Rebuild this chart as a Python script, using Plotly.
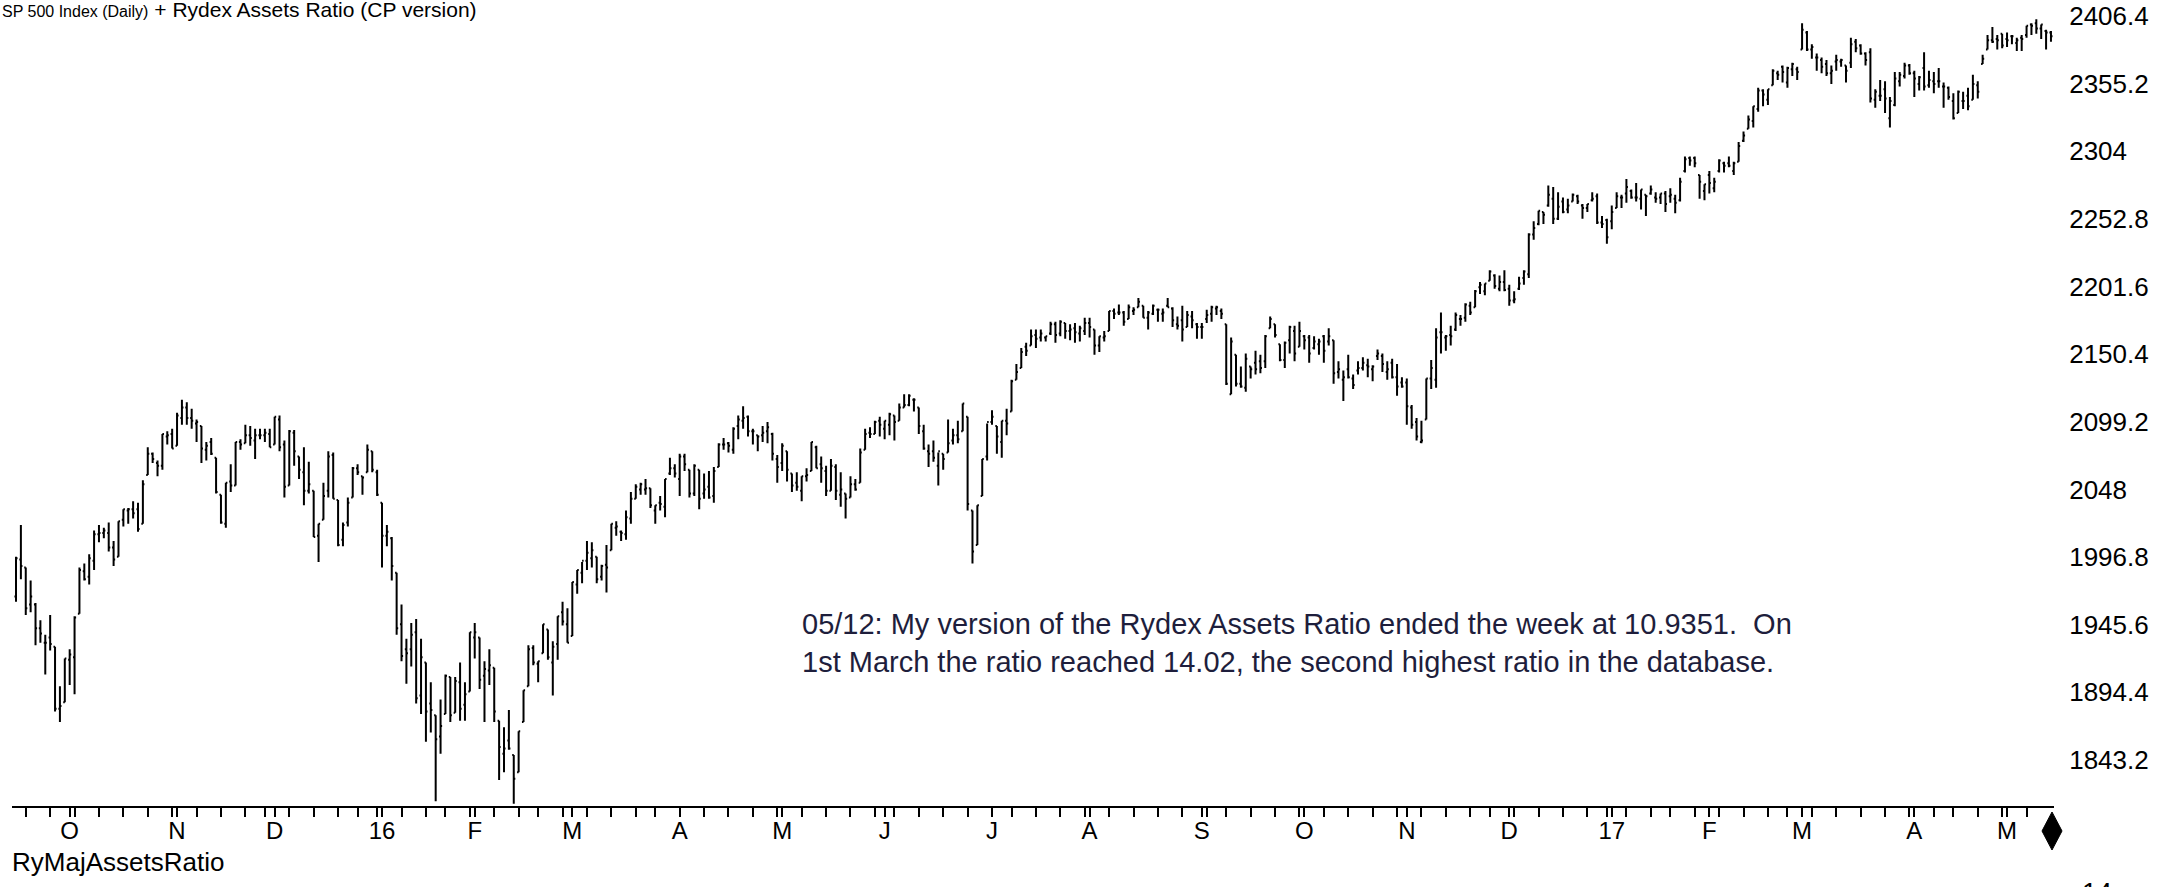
import pandas as pd
import plotly.graph_objects as go

# ---------------- data (S&P 500 daily, 2015-09-16 .. 2017-05-12) ----------------
start_date = "2015-09-16"
end_date = "2017-05-12"
market_holidays = ["2015-11-26", "2015-12-25", "2016-01-01", "2016-01-18", "2016-02-15",
                   "2016-03-25", "2016-05-30", "2016-07-04", "2016-09-05", "2016-11-24",
                   "2016-12-26", "2017-01-02", "2017-01-16", "2017-02-20", "2017-04-14"]

opens = [
    # Sep 2015 (11)
    1967,1995,1989,1961,1961,1943,1932,1936,1929,1882,1887,
    # Oct 2015 (22)
    1919,1921,1954,1986,1982,1994,2014,2015,2015,2004,1997,2025,2032,2033,2033,2022,2059,2075,2068,2066,2088,2090,
    # Nov 2015 (20)
    2081,2102,2110,2102,2098,2096,2078,2084,2072,2044,2022,2054,2051,2084,2083,2089,2085,2089,2089,2090,
    # Dec 2015 (22)
    2082,2101,2082,2051,2091,2073,2061,2047,2047,2013,2025,2047,2074,2040,2010,2023,2042,2064,2058,2061,2077,2061,
    # Jan 2016 (19)
    2038,2013,2011,1985,1946,1927,1927,1940,1892,1917,1886,1877,1861,1878,1906,1879,1902,1885,1895,
    # Feb 2016 (20)
    1936,1936,1907,1911,1913,1873,1848,1858,1847,1834,1872,1899,1928,1916,1924,1942,1917,1931,1955,1946,
    # Mar 2016 (22)
    1937,1976,1985,1994,1996,1997,1982,1991,2002,2019,2016,2014,2026,2041,2048,2048,2049,2032,2038,2035,2060,2064,
    # Apr 2016 (21)
    2056,2073,2063,2045,2063,2045,2050,2043,2065,2082,2083,2078,2096,2100,2103,2092,2089,2089,2092,2090,2071,
    # May 2016 (21)
    2068,2077,2060,2053,2047,2058,2062,2080,2067,2062,2047,2065,2044,2045,2042,2052,2053,2078,2091,2090,2100,
    # Jun 2016 (22)
    2094,2097,2104,2100,2110,2112,2116,2110,2092,2077,2077,2066,2075,2076,2085,2089,2092,2103,2032,2006,2043,2073,
    # Jul 2016 (20)
    2099,2096,2084,2100,2107,2131,2140,2156,2157,2165,2163,2163,2166,2173,2166,2174,2168,2170,2166,2168,
    # Aug 2016 (23)
    2174,2169,2157,2163,2168,2183,2182,2182,2177,2183,2186,2187,2178,2181,2184,2181,2187,2185,2173,2176,2171,2179,2173,
    # Sep 2016 (21)
    2171,2177,2181,2185,2183,2173,2120,2150,2128,2125,2141,2144,2145,2145,2170,2173,2158,2146,2161,2168,2156,
    # Oct 2016 (21)
    2164,2163,2155,2158,2164,2160,2161,2137,2131,2139,2132,2138,2140,2142,2139,2149,2149,2137,2144,2133,2129,
    # Nov 2016 (21)
    2129,2110,2099,2084,2101,2132,2131,2167,2163,2165,2169,2177,2178,2187,2186,2201,2198,2206,2210,2200,2205,
    # Dec 2016 (21)
    2200,2191,2200,2208,2211,2241,2249,2258,2263,2268,2253,2266,2260,2266,2270,2263,2261,2267,2270,2250,2252,
    # Jan 2017 (20)
    2251,2261,2269,2272,2274,2269,2268,2271,2272,2269,2269,2272,2270,2268,2267,2289,2299,2299,2286,2274,
    # Feb 2017 (19)
    2286,2276,2289,2295,2295,2289,2296,2312,2321,2327,2336,2350,2343,2354,2363,2368,2356,2366,2366,
    # Mar 2017 (23)
    2381,2394,2381,2375,2373,2370,2363,2372,2372,2369,2371,2387,2384,2378,2379,2343,2346,2351,2329,2339,2357,2361,2369,
    # Apr 2017 (19)
    2363,2355,2367,2354,2357,2357,2353,2352,2342,2333,2342,2346,2343,2354,2370,2381,2388,2389,2393,
    # May 2017 (10)
    2389,2391,2386,2390,2392,2400,2401,2397,2395,2394,
]

highs = [
    1997,2021,1989,1979,1962,1949,1938,1953,1929,1899,1920,
    1927,1952,1989,1992,1999,2017,2021,2019,2023,2009,2024,2033,2034,2039,2038,2055,2080,2076,2070,2090,2092,2094,
    2106,2116,2114,2109,2101,2096,2084,2087,2072,2044,2053,2067,2084,2086,2097,2096,2094,2094,2094,2094,
    2103,2104,2085,2093,2093,2073,2080,2069,2047,2022,2053,2077,2076,2040,2023,2042,2065,2067,2058,2082,2077,2063,
    2038,2021,2012,1985,1961,1935,1947,1950,1935,1917,1902,1877,1889,1908,1906,1906,1917,1902,1940,
    1947,1936,1918,1927,1913,1873,1868,1881,1847,1865,1896,1930,1930,1918,1946,1942,1933,1952,1963,1958,
    1978,1987,1993,2009,2008,1997,1991,2006,2022,2024,2017,2032,2046,2052,2053,2056,2049,2036,2043,2056,2072,2067,
    2075,2075,2063,2067,2063,2060,2062,2065,2083,2087,2084,2095,2104,2111,2104,2094,2089,2096,2099,2091,2074,
    2083,2077,2060,2061,2058,2064,2084,2081,2073,2066,2071,2067,2061,2045,2058,2056,2079,2094,2095,2100,2103,
    2100,2106,2104,2113,2120,2120,2117,2110,2097,2082,2085,2076,2075,2101,2094,2100,2113,2103,2032,2036,2071,2098,
    2108,2096,2100,2109,2131,2143,2155,2159,2169,2169,2169,2164,2175,2175,2176,2174,2173,2174,2172,2178,
    2178,2169,2164,2168,2183,2185,2188,2183,2188,2186,2193,2187,2183,2188,2185,2185,2193,2186,2179,2187,2183,2183,2174,
    2174,2184,2187,2187,2185,2173,2163,2150,2141,2151,2141,2153,2150,2165,2179,2173,2158,2160,2172,2172,2175,
    2165,2165,2164,2162,2165,2170,2161,2145,2138,2150,2135,2145,2148,2147,2142,2154,2151,2145,2147,2143,2133,
    2132,2112,2102,2100,2132,2146,2170,2182,2165,2172,2182,2180,2189,2190,2199,2205,2204,2214,2211,2210,2214,
    2203,2198,2209,2214,2242,2251,2259,2258,2278,2277,2273,2269,2268,2272,2271,2264,2264,2273,2272,2255,2253,
    2263,2273,2271,2283,2275,2280,2275,2271,2278,2273,2272,2274,2276,2271,2284,2300,2300,2300,2286,2279,
    2289,2284,2298,2296,2300,2296,2311,2319,2331,2338,2352,2351,2351,2366,2365,2369,2368,2371,2368,
    2401,2395,2385,2378,2375,2373,2369,2377,2374,2369,2390,2389,2385,2379,2382,2351,2358,2357,2345,2364,2364,2371,2370,
    2365,2361,2379,2365,2364,2367,2356,2353,2348,2350,2349,2352,2362,2357,2377,2392,2398,2392,2393,
    2394,2392,2390,2392,2399,2401,2404,2400,2396,2395,
]

lows = [
    1963,1980,1953,1955,1930,1932,1908,1926,1880,1872,1887,
    1900,1893,1954,1979,1976,1987,2008,2011,2001,1990,1997,2020,2022,2026,2016,2022,2059,2068,2058,2063,2082,2079,
    2081,2097,2097,2094,2084,2068,2070,2074,2045,2022,2019,2046,2051,2078,2083,2081,2071,2086,2084,2080,
    2082,2077,2042,2051,2066,2056,2036,2045,2012,1993,2025,2042,2041,2005,2005,2020,2042,2059,2044,2061,2061,2043,
    1989,2005,1979,1938,1918,1901,1914,1886,1878,1857,1864,1812,1848,1878,1872,1879,1873,1873,1895,
    1920,1897,1872,1900,1872,1828,1834,1851,1810,1834,1872,1899,1915,1902,1924,1919,1892,1919,1945,1932,
    1937,1969,1977,1987,1989,1977,1979,1970,2002,2013,2009,2010,2022,2041,2044,2044,2034,2022,2032,2027,2059,2057,
    2043,2062,2042,2043,2033,2041,2041,2038,2065,2078,2076,2075,2086,2094,2088,2082,2077,2084,2083,2070,2053,
    2062,2054,2046,2047,2039,2054,2062,2064,2053,2043,2047,2040,2035,2026,2042,2047,2053,2078,2087,2090,2088,
    2086,2089,2085,2100,2110,2111,2107,2090,2078,2065,2069,2051,2063,2076,2082,2083,2092,2032,1992,2006,2043,2070,
    2097,2075,2072,2089,2107,2131,2140,2149,2157,2155,2160,2160,2165,2159,2164,2162,2161,2159,2160,2165,
    2163,2150,2152,2160,2168,2177,2180,2172,2177,2180,2186,2178,2169,2180,2175,2175,2186,2171,2169,2160,2171,2170,2162,
    2162,2174,2175,2180,2177,2127,2120,2126,2125,2122,2132,2135,2136,2140,2170,2163,2145,2140,2151,2145,2156,
    2154,2144,2154,2150,2144,2157,2128,2132,2115,2132,2124,2135,2138,2133,2130,2146,2137,2131,2132,2119,2125,
    2097,2094,2085,2083,2101,2124,2125,2151,2153,2157,2168,2172,2175,2180,2186,2196,2195,2206,2200,2198,2198,
    2187,2189,2199,2203,2208,2237,2248,2249,2262,2249,2252,2257,2257,2266,2264,2253,2258,2266,2249,2246,2234,
    2245,2261,2261,2265,2268,2266,2260,2255,2271,2265,2264,2258,2265,2257,2266,2288,2293,2292,2268,2267,
    2272,2273,2288,2288,2292,2286,2296,2311,2321,2322,2334,2338,2339,2354,2358,2356,2352,2361,2358,
    2381,2380,2374,2365,2363,2361,2355,2365,2368,2356,2367,2379,2377,2369,2341,2337,2342,2333,2322,2338,2353,2359,2362,
    2345,2350,2350,2352,2348,2352,2337,2343,2328,2333,2336,2335,2343,2344,2370,2381,2386,2381,2382,
    2383,2385,2380,2380,2390,2392,2393,2389,2381,2387,
]

closes = [
    1996,1990,1958,1967,1943,1939,1932,1931,1882,1884,1920,
    1923,1951,1987,1980,1996,2014,2015,2017,2004,1995,2024,2033,2033,2030,2018,2052,2075,2071,2066,2090,2089,2079,
    2104,2110,2102,2100,2099,2079,2081,2075,2046,2023,2053,2051,2084,2082,2089,2087,2089,2089,2091,2080,
    2103,2080,2050,2092,2077,2063,2047,2052,2012,2022,2043,2073,2041,2006,2021,2038,2064,2061,2057,2078,2063,2044,
    2013,2016,1990,1943,1922,1924,1938,1890,1921,1880,1881,1859,1869,1907,1877,1903,1882,1893,1940,
    1940,1904,1912,1915,1880,1853,1852,1852,1829,1865,1896,1927,1917,1918,1946,1921,1929,1952,1948,1932,
    1978,1987,1994,2000,2002,1980,1990,1989,2022,2020,2015,2027,2041,2050,2052,2049,2036,2036,2037,2056,2064,2060,
    2073,2067,2045,2066,2041,2048,2042,2062,2082,2082,2081,2094,2101,2102,2092,2092,2088,2091,2095,2075,2065,
    2081,2063,2051,2050,2058,2059,2084,2064,2064,2047,2066,2047,2048,2041,2052,2048,2076,2090,2090,2099,2097,
    2100,2105,2099,2110,2112,2119,2116,2096,2079,2075,2072,2077,2071,2083,2089,2086,2113,2037,2001,2036,2071,2099,
    2103,2088,2100,2098,2130,2137,2152,2153,2164,2162,2166,2164,2173,2165,2175,2168,2169,2167,2170,2174,
    2171,2157,2164,2164,2183,2181,2182,2175,2186,2184,2190,2178,2182,2187,2184,2182,2186,2176,2172,2169,2180,2176,2171,
    2171,2180,2186,2186,2181,2128,2160,2128,2126,2147,2139,2139,2140,2164,2177,2165,2146,2159,2171,2151,2168,
    2161,2151,2160,2160,2153,2164,2136,2139,2133,2133,2127,2140,2144,2141,2141,2151,2143,2139,2133,2126,2126,
    2111,2097,2088,2085,2132,2140,2163,2167,2164,2164,2180,2177,2188,2182,2198,2203,2204,2213,2202,2205,2199,
    2191,2192,2204,2213,2241,2246,2259,2256,2271,2253,2262,2258,2263,2271,2266,2261,2264,2268,2250,2249,2239,
    2258,2270,2269,2277,2269,2269,2275,2270,2275,2268,2272,2264,2271,2265,2281,2298,2297,2295,2281,2279,
    2280,2281,2297,2293,2293,2295,2308,2316,2328,2338,2350,2347,2351,2365,2362,2364,2367,2370,2364,
    2396,2381,2383,2375,2368,2363,2365,2373,2373,2365,2385,2382,2378,2373,2344,2349,2346,2344,2342,2359,2362,2369,2363,
    2359,2360,2353,2358,2355,2357,2353,2345,2329,2349,2342,2338,2355,2349,2374,2388,2387,2388,2384,
    2388,2391,2388,2389,2399,2399,2397,2400,2394,2391,
]

y_tick_values = [2406.4, 2355.2, 2304, 2252.8, 2201.6, 2150.4, 2099.2, 2048, 1996.8, 1945.6, 1894.4, 1843.2]
y_tick_labels = ["2406.4", "2355.2", "2304", "2252.8", "2201.6", "2150.4", "2099.2", "2048",
                 "1996.8", "1945.6", "1894.4", "1843.2"]
month_letters = {1: None, 2: "F", 3: "M", 4: "A", 5: "M", 6: "J", 7: "J", 8: "A",
                 9: "S", 10: "O", 11: "N", 12: "D"}

title_small = "SP 500 Index (Daily)"
title_large = " + Rydex Assets Ratio (CP version)"
note_text = ("05/12: My version of the Rydex Assets Ratio ended the week at 10.9351.  On<br>"
             "1st March the ratio reached 14.02, the second highest ratio in the database.")
lower_panel_name = "RyMajAssetsRatio"
lower_panel_top_tick = "14"

# ---------------- trading-day calendar ----------------
dates = pd.bdate_range(start_date, end_date)
dates = dates[~dates.isin(pd.to_datetime(market_holidays))]
assert len(dates) == len(opens) == len(highs) == len(lows) == len(closes), (
    len(dates), len(opens), len(highs), len(lows), len(closes))
idx = list(range(len(dates)))

major_vals, major_text = [], []
for i, d in enumerate(dates):
    if i > 0 and d.month != dates[i - 1].month:
        major_vals.append(i)
        major_text.append(f"{d.year % 100:02d}" if d.month == 1 else month_letters[d.month])
minor_vals = []
for i, d in enumerate(dates):
    if i + 1 < len(dates) and dates[i + 1].isocalendar()[1] != d.isocalendar()[1]:
        minor_vals.append(i)

# ---------------- geometry ----------------
W, H = 2170, 887
ML, MR, MT, MB = 12, 116, 0, 81
plot_w = W - ML - MR
plot_h = H - MT - MB
px_per_day = 4.88
first_px = 16
x0 = 0 - (first_px - ML) / px_per_day
x1 = x0 + plot_w / px_per_day
y_top_px = 16          # pixel row of 2406.4
y_bot_px = 760         # pixel row of 1843.2
ppu = (y_bot_px - y_top_px) / (2406.4 - 1843.2)
y1 = 2406.4 + y_top_px / ppu
y0 = y1 - plot_h / ppu


def px_to_paper(px, py):
    return (px - ML) / plot_w, 1 - (py - MT) / plot_h


FONT = "Liberation Sans, Arial, sans-serif"

fig = go.Figure()
fig.add_trace(go.Ohlc(
    x=idx, open=opens, high=highs, low=lows, close=closes,
    increasing=dict(line=dict(color="black", width=2)),
    decreasing=dict(line=dict(color="black", width=2)),
    tickwidth=0.32, hoverinfo="skip", showlegend=False,
))

# end-of-axis diamond marker (decoration below the axis end)
cx, cy, hw, hh = W - MR - 2, 831, 10, 19
pts = [px_to_paper(cx, cy - hh), px_to_paper(cx + hw, cy), px_to_paper(cx, cy + hh), px_to_paper(cx - hw, cy)]
diamond_path = "M " + " L ".join(f"{a},{b}" for a, b in pts) + " Z"

fig.update_layout(
    width=W, height=H,
    margin=dict(l=ML, r=MR, t=MT, b=MB, pad=0),
    paper_bgcolor="white", plot_bgcolor="white",
    font=dict(family=FONT, color="black"),
    xaxis=dict(
        range=[x0, x1], rangeslider=dict(visible=False),
        showgrid=False, zeroline=False,
        showline=True, linecolor="black", linewidth=2,
        tickmode="array", tickvals=major_vals, ticktext=major_text,
        ticks="outside", ticklen=9, tickwidth=2, tickcolor="black",
        ticklabelstandoff=-7,
        tickfont=dict(size=24, family=FONT, color="black"),
        minor=dict(tickmode="array", tickvals=minor_vals, ticks="outside",
                   ticklen=9, tickwidth=2, tickcolor="black", showgrid=False),
    ),
    yaxis=dict(
        range=[y0, y1], side="right",
        showgrid=False, zeroline=False, showline=False,
        tickmode="array", tickvals=y_tick_values, ticktext=y_tick_labels,
        ticks="outside", ticklen=9, tickcolor="rgba(0,0,0,0)",
        tickfont=dict(size=26, family=FONT, color="black"),
    ),
    shapes=[dict(type="path", xref="paper", yref="paper", path=diamond_path,
                 fillcolor="black", line=dict(color="black", width=1))],
    annotations=[
        dict(xref="paper", yref="paper", x=-ML / plot_w, y=1, xanchor="left", yanchor="bottom",
             yshift=-23, showarrow=False,
             text=f"<span style='font-size:16px'>{title_small}</span>{title_large}",
             font=dict(size=21, family=FONT, color="black")),
        dict(xref="paper", yref="paper", x=(800 - ML) / plot_w, y=1 - 643 / plot_h,
             xanchor="left", yanchor="middle", align="left", showarrow=False,
             text=note_text, font=dict(size=29, family=FONT, color="#1e1e3c")),
        dict(xref="paper", yref="paper", x=-2 / plot_w, y=1 - 862 / plot_h,
             xanchor="left", yanchor="middle", showarrow=False,
             text=lower_panel_name, font=dict(size=26, family=FONT, color="black")),
        dict(xref="paper", yref="paper", x=(2080 - ML) / plot_w, y=1 - 893 / plot_h,
             xanchor="left", yanchor="middle", showarrow=False,
             text=lower_panel_top_tick, font=dict(size=27, family=FONT, color="black")),
    ],
)

fig.write_html("out.html", config={"displayModeBar": False},
               post_script="document.body.style.margin='0';document.body.style.overflow='hidden';")
